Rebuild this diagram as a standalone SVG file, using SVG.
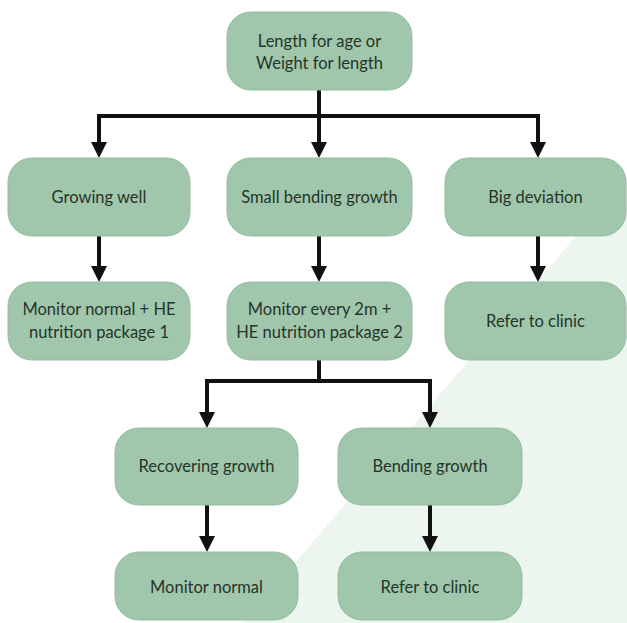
<svg xmlns="http://www.w3.org/2000/svg" width="627" height="623" viewBox="0 0 627 623">
<style>
.box{fill:#a0c7ab;stroke:#93bc9f;stroke-width:1}
.t{font-family:Lato,"Open Sans","Liberation Sans",sans-serif;font-size:16.5px;fill:#26342a;text-anchor:middle}
.c{fill:none;stroke:#111;stroke-width:4;stroke-linejoin:miter}
.a{marker-end:url(#ah)}
.b{marker-start:url(#as);marker-end:url(#ah)}
</style>
<defs>
<marker id="ah" viewBox="0 0 16 16" refX="12" refY="8" markerWidth="16" markerHeight="16" markerUnits="userSpaceOnUse" orient="auto"><path d="M0,0 L16,8 L0,16 z" fill="#111"/></marker>
<marker id="as" viewBox="0 0 16 16" refX="12" refY="8" markerWidth="16" markerHeight="16" markerUnits="userSpaceOnUse" orient="auto-start-reverse"><path d="M0,0 L16,8 L0,16 z" fill="#111"/></marker>
</defs>
<rect width="627" height="623" fill="#fff"/>
<polygon points="627,177 627,623 243,623" fill="#edf5ef"/>
<g id="connectors">
<path class="c a" d="M319,90 V154"/>
<path class="c b" d="M99,154 V116 H538 V154"/>
<path class="c a" d="M99,236 V278"/>
<path class="c a" d="M319,236 V278"/>
<path class="c a" d="M538,236 V278"/>
<path class="c" d="M319,360 V381"/>
<path class="c b" d="M207,424 V381 H430 V424"/>
<path class="c a" d="M207,505 V548"/>
<path class="c a" d="M430,505 V548"/>
</g>
<g id="n-top"><rect class="box" x="227" y="12" width="185" height="78" rx="24"/><text class="t" x="319.5" y="47">Length for age or</text><text class="t" x="319.5" y="69">Weight for length</text></g>
<g id="n-growing"><rect class="box" x="8" y="158" width="182" height="78" rx="24"/><text class="t" x="99" y="203">Growing well</text></g>
<g id="n-small"><rect class="box" x="227" y="158" width="185" height="78" rx="24"/><text class="t" x="319.5" y="203">Small bending growth</text></g>
<g id="n-big"><rect class="box" x="445" y="158" width="181" height="78" rx="24"/><text class="t" x="535.5" y="203">Big deviation</text></g>
<g id="n-monitor1"><rect class="box" x="8" y="282" width="182" height="78" rx="24"/><text class="t" x="99" y="315">Monitor normal + HE</text><text class="t" x="99" y="338">nutrition package 1</text></g>
<g id="n-monitor2"><rect class="box" x="227" y="282" width="185" height="78" rx="24"/><text class="t" x="319.5" y="315">Monitor every 2m +</text><text class="t" x="319.5" y="338">HE nutrition package 2</text></g>
<g id="n-refer1"><rect class="box" x="445" y="282" width="181" height="78" rx="24"/><text class="t" x="535.5" y="327">Refer to clinic</text></g>
<g id="n-recovering"><rect class="box" x="115" y="428" width="183" height="77" rx="24"/><text class="t" x="206.5" y="472">Recovering growth</text></g>
<g id="n-bending"><rect class="box" x="338" y="428" width="184" height="77" rx="24"/><text class="t" x="430" y="472">Bending growth</text></g>
<g id="n-monitor3"><rect class="box" x="115" y="552" width="183" height="68" rx="24"/><text class="t" x="206.5" y="593">Monitor normal</text></g>
<g id="n-refer2"><rect class="box" x="338" y="552" width="184" height="68" rx="24"/><text class="t" x="430" y="593">Refer to clinic</text></g>
</svg>
